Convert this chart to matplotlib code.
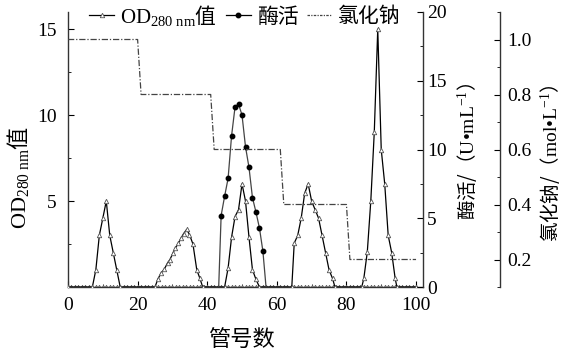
import numpy as np
import matplotlib
matplotlib.use("Agg")
import matplotlib.pyplot as plt
from matplotlib.lines import Line2D
from matplotlib.ticker import MultipleLocator

plt.rcParams['font.family'] = ['Liberation Serif', 'Noto Sans CJK SC']
plt.rcParams['mathtext.fontset'] = 'custom'
plt.rcParams['mathtext.rm'] = 'Liberation Serif'
plt.rcParams['mathtext.it'] = 'Liberation Serif:italic'
plt.rcParams['mathtext.bf'] = 'Liberation Serif:bold'
plt.rcParams['mathtext.sf'] = 'Noto Sans CJK SC'

# OD280 peaks (tube number, OD value)
p1_x = [7, 8, 9, 10, 11, 12, 13, 14, 15]
p1_y = [0, 1.0, 3.0, 4.0, 5.0, 3.0, 2.0, 1.0, 0]
p2_x = [25, 25.8, 26.7, 27.7, 28.6, 29.3, 30.1, 30.8, 31.7, 32.5, 33.2, 34.1, 34.9, 35.9, 37.0, 37.9, 38.7]
p2_y = [0, 0.45, 0.8, 1.05, 1.4, 1.6, 1.95, 2.25, 2.55, 2.85, 3.1, 3.35, 3.05, 2.5, 1.0, 0.5, 0]
p3_x = [45, 46, 47, 48, 49, 50, 51, 52, 53, 54, 55]
p3_y = [0, 1.1, 2.9, 4.1, 4.5, 6.0, 5.0, 2.9, 1.0, 0.45, 0]
p4_x = [64.3, 65, 66, 67, 68, 69, 70, 71, 72, 73, 74, 75, 76, 76.7]
p4_y = [0, 2.55, 3.0, 4.0, 5.45, 6.0, 5.0, 4.5, 4.0, 3.0, 2.0, 1.0, 0.5, 0]
p5_x = [84.4, 85, 86, 87, 88, 89, 90, 91, 92, 93, 94, 94.5]
p5_y = [0, 0.5, 2.05, 5.0, 9.0, 15.0, 8.0, 6.0, 3.0, 2.0, 0.5, 0]

od_x = [0] + p1_x + p2_x + p3_x + p4_x + p5_x + [100]
od_y = [0] + p1_y + p2_y + p3_y + p4_y + p5_y + [0]

# baseline tubes where OD stays at zero
base_x = np.arange(0, 101)
base_y = np.zeros(len(base_x))

# enzyme activity (U/mL)
enz_x = [43.3, 44, 45, 46, 47, 48, 49, 50, 51, 52, 53, 54, 55, 56, 56.9]
enz_y = [0, 5.2, 6.6, 7.9, 11.0, 13.1, 13.3, 12.5, 10.2, 8.7, 6.5, 5.45, 4.3, 2.6, 0]

# NaCl step gradient (mol/L)
nacl_x = [0, 20, 21, 41, 42, 61, 62, 80, 81, 100]
nacl_y = [1.0, 1.0, 0.8, 0.8, 0.6, 0.6, 0.4, 0.4, 0.2, 0.2]

fs = 14
lfs = 16
fig = plt.figure(figsize=(5.67, 3.52), dpi=100)
ax = fig.add_axes([68/567, 1-287/352, (423-68)/567, (287-12)/352])
ax2 = ax.twinx()
ax3 = ax.twinx()
ax3.spines['right'].set_position(('axes', (500-68)/(423-68)))

# OD
ax.plot(base_x, base_y, color='black', lw=0.9, marker='^', ms=3.2,
        mfc='white', mec='#555555', mew=0.6)
ax.plot(od_x, od_y, color='black', lw=0.9, marker='^', ms=3.2,
        mfc='white', mec='#555555', mew=0.6, zorder=3)

# enzyme
ax2.plot(enz_x, enz_y, color='#444444', lw=0.9)
ax2.plot(enz_x[1:-1], enz_y[1:-1], ls='none', marker='o', ms=3.2, color='black')

# NaCl
ax3.plot(nacl_x, nacl_y, color='#444444', lw=0.9, ls=(0, (5, 1.5, 1, 1.5)))

ax.set_xlim(0, 102)
ax.set_ylim(0, 16)
ax2.set_ylim(0, 20)
ax3.set_ylim(0.1, 1.1)

ax.xaxis.set_major_locator(MultipleLocator(20))
ax.xaxis.set_minor_locator(MultipleLocator(10))
ax.set_yticks([5, 10, 15])
ax.yaxis.set_minor_locator(MultipleLocator(2.5))
ax2.yaxis.set_major_locator(MultipleLocator(5))
ax2.yaxis.set_minor_locator(MultipleLocator(2.5))
ax3.set_yticks([0.2, 0.4, 0.6, 0.8, 1.0])
ax3.set_yticklabels(['0.2', '0.4', '0.6', '0.8', '1.0'])
ax3.yaxis.set_minor_locator(MultipleLocator(0.1))

for a in (ax, ax2, ax3):
    a.spines['top'].set_visible(False)
    for s in a.spines.values():
        s.set_color('#333333')
        s.set_linewidth(1.0)
ax.spines['right'].set_visible(False)
ax2.spines['left'].set_visible(False)
ax2.spines['bottom'].set_visible(False)
ax3.spines['left'].set_visible(False)
ax3.spines['bottom'].set_visible(False)

ax.tick_params(axis='x', which='both', direction='in', labelsize=fs, pad=7)
ax.tick_params(axis='y', which='both', direction='in', labelsize=fs, pad=8)
ax.tick_params(which='major', length=4)
ax.tick_params(which='minor', length=2.5)
ax2.tick_params(which='both', direction='in', labelsize=fs, pad=3)
ax2.tick_params(which='major', length=4)
ax2.tick_params(which='minor', length=2.5)
ax3.tick_params(which='both', direction='in', labelsize=fs, pad=5)
ax3.tick_params(which='major', length=4)
ax3.tick_params(which='minor', length=2.5)

od_label = r'OD$_{\mathrm{280\ nm}}\mathsf{值}$'
fig.text(18/567, 1-177/352, od_label, rotation=90,
         ha='center', va='center', fontsize=lfs)
fig.text(467/567, 1-152/352, r'$\mathsf{酶活/（}\mathrm{U•mL}^{-1}\mathsf{）}$', rotation=90,
         ha='center', va='center', fontsize=fs)
fig.text(550/567, 1-163/352, r'$\mathsf{氯化钠/（}\mathrm{mol•L}^{-1}\mathsf{）}$', rotation=90,
         ha='center', va='center', fontsize=fs)
fig.text(241/567, 1-340/352, '管号数', ha='center', va='center', fontsize=lfs)

handles = [
    Line2D([0], [0], color='black', lw=0.9, marker='^', ms=3.2, mfc='white', mec='#555555', mew=0.6),
    Line2D([0], [0], color='black', lw=0.9, marker='o', ms=3.2),
    Line2D([0], [0], color='#444444', lw=0.9, ls=(0, (2, 1, 1, 1))),
]
labels = [od_label, '酶活', '氯化钠']
fig.legend(handles, labels, loc='center', bbox_to_anchor=(245/567, 1-15/352),
           ncol=3, frameon=False, fontsize=15, handlelength=1.2,
           handletextpad=0.3, columnspacing=0.4, borderpad=0)

fig.savefig('out.png', dpi=100)
